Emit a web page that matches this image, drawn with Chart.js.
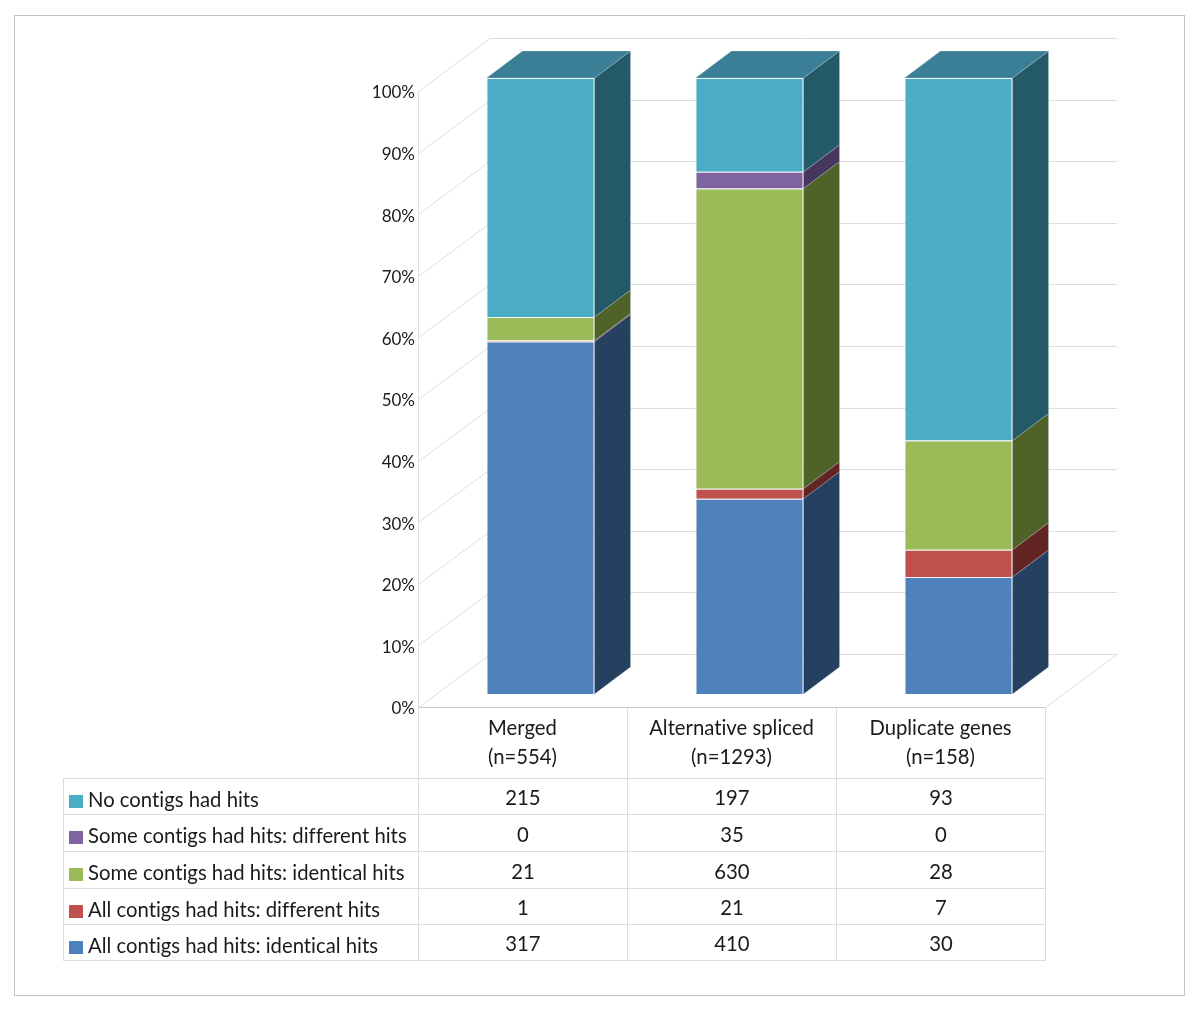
<!DOCTYPE html>
<html>
<head>
<meta charset="utf-8">
<title>Contig hits</title>
<script src="https://cdn.jsdelivr.net/npm/chart.js@4/dist/chart.umd.js"></script>
<style>
    html, body { margin: 0; padding: 0; background: #fff; }
    #wrap { position: relative; width: 1200px; height: 1013px; overflow: hidden; }
    #frame { position: absolute; left: 14px; top: 15px; width: 1169px; height: 979px; border: 1px solid #c4c4c4; }
    #stats_chart { position: absolute; left: 0; top: 0; }
    #data_table {
        position: absolute; left: 63px; top: 778px; width: 983px;
        border-collapse: collapse; table-layout: fixed;
        font-family: Lato, sans-serif; font-size: 20.3px; color: #1a1a1a;
        font-variant-ligatures: none; line-height: 24px;
    }
    #data_table td { box-sizing: border-box; border: 1px solid #dcdcdc; padding: 1px 0 0 0; height: 36px; text-align: center; }
    #data_table tr:nth-child(2) td, #data_table tr:nth-child(3) td { height: 37px; }
    #data_table td.name { text-align: left; white-space: nowrap; padding: 4px 0 0 5px; }
    .swatch { display: inline-block; width: 14px; height: 13px; margin-right: 5px; vertical-align: -1px; }
</style>
</head>
<body>
<div id="wrap">
    <div id="frame"></div>
    <canvas id="stats_chart" width="1200" height="1013"></canvas>
    <table id="data_table"></table>
</div>
<script>
'use strict';

const categories = [['Merged', '(n=554)'], ['Alternative spliced', '(n=1293)'], ['Duplicate genes', '(n=158)']];
const series_names = [
    'All contigs had hits: identical hits',
    'All contigs had hits: different hits',
    'Some contigs had hits: identical hits',
    'Some contigs had hits: different hits',
    'No contigs had hits',
];
const identical_all = [317, 410, 30];
const different_all = [1, 21, 7];
const identical_some = [21, 630, 28];
const different_some = [0, 35, 0];
const no_hits = [215, 197, 93];
const y_ticks_step = 10;

const front_colors = ['#4F81BD', '#C0504D', '#9BBB59', '#8064A2', '#4BACC6'];
const side_colors = ['#254061', '#632523', '#4F6228', '#47375F', '#245A68'];
const top_color = '#3A7F95';
const edge_color = 'rgba(215, 225, 235, 0.25)';
const grid_color = '#dedede';

const series_values = [identical_all, different_all, identical_some, different_some, no_hits];
const totals = categories.map((c, i) => series_values.reduce((sum, s) => sum + s[i], 0));

// the picture is a fake 3D: wall sits (72,-53) behind the axis plane, bars half way in
const wall_dx = 72, wall_dy = -53;
const bar_dx = 18, bar_dy = -13;
const side_dx = 36, side_dy = -27;

const depth_plugin = {
    id: 'depth',
    beforeDraw(chart) {
        // no ligatures on canvas text, the original font has none here
        chart.ctx.textRendering = 'optimizeSpeed';
    },
    beforeDatasetsDraw(chart) {
        const ctx = chart.ctx;
        const y_scale = chart.scales.y;
        const { left, right, bottom } = chart.chartArea;
        ctx.save();
        ctx.strokeStyle = grid_color;
        ctx.lineWidth = 1;
        y_scale.ticks.forEach((tick) => {
            const y = Math.round(y_scale.getPixelForValue(tick.value)) + 0.5;
            ctx.beginPath();
            ctx.moveTo(left + 0.5, y);
            ctx.lineTo(left + wall_dx, y + wall_dy);
            ctx.lineTo(right + wall_dx, y + wall_dy);
            ctx.stroke();
        });
        ctx.beginPath();
        ctx.moveTo(right + 0.5, bottom + 0.5);
        ctx.lineTo(right + wall_dx, bottom + wall_dy + 0.5);
        ctx.stroke();
        ctx.restore();

        ctx.save();
        ctx.translate(bar_dx, bar_dy);
    },
    afterDatasetsDraw(chart) {
        const ctx = chart.ctx;
        const face = (points, fill) => {
            ctx.beginPath();
            points.forEach((p, i) => (i ? ctx.lineTo(p[0], p[1]) : ctx.moveTo(p[0], p[1])));
            ctx.closePath();
            ctx.fillStyle = fill;
            ctx.fill();
            ctx.strokeStyle = edge_color;
            ctx.lineWidth = 1;
            ctx.stroke();
        };
        chart.data.datasets.forEach((dataset, d) => {
            chart.getDatasetMeta(d).data.forEach((bar, i) => {
                if (!dataset.data[i]) return;
                const x = bar.x + bar.width / 2;
                face([[x, bar.y], [x + side_dx, bar.y + side_dy], [x + side_dx, bar.base + side_dy], [x, bar.base]], side_colors[d]);
                if (d === chart.data.datasets.length - 1) {
                    const x0 = bar.x - bar.width / 2;
                    face([[x0, bar.y], [x0 + side_dx, bar.y + side_dy], [x + side_dx, bar.y + side_dy], [x, bar.y]], top_color);
                }
            });
        });
        ctx.restore();
    },
};

const mychart = document.getElementById('stats_chart');

const drop_padding = (scale) => {
    scale.paddingTop = 0;
    scale.paddingBottom = 0;
    scale.paddingLeft = 0;
    scale.paddingRight = 0;
};

new Chart(mychart, {
    type: 'bar',
    data: {
        labels: categories,
        datasets: series_names.map((name, d) => ({
            label: name,
            data: series_values[d].map((v, i) => v / totals[i] * 100),
            backgroundColor: front_colors[d],
            borderColor: edge_color,
            borderWidth: 1,
            categoryPercentage: 1,
            barPercentage: 0.517,
            clip: false,
        })),
    },
    options: {
        responsive: false,
        animation: false,
        layout: { padding: { top: 91, right: 155, bottom: 235, left: 0 } },
        plugins: { legend: { display: false }, tooltip: { enabled: false } },
        scales: {
            x: {
                stacked: true,
                grid: { color: grid_color, drawOnChartArea: false, tickLength: 71 },
                border: { color: '#c8c8c8' },
                ticks: {
                    color: '#1a1a1a',
                    maxRotation: 0,
                    autoSkip: false,
                    padding: -64,
                    font: { family: 'Lato', size: 20.3, lineHeight: 1.43 },
                },
                afterFit: (scale) => { scale.height = 71; drop_padding(scale); },
            },
            y: {
                stacked: true,
                min: 0,
                max: 100,
                grid: { display: false, drawTicks: false },
                border: { color: grid_color },
                ticks: {
                    stepSize: y_ticks_step,
                    color: '#1a1a1a',
                    padding: 3,
                    labelOffset: 2,
                    font: { family: 'Lato', size: 17 },
                    callback: (value) => value + '%',
                },
                afterFit: (scale) => { scale.width = 418; drop_padding(scale); },
            },
        },
    },
    plugins: [depth_plugin],
});

// data table under the plot, doubles as the legend
const data_table = document.getElementById('data_table');
const col_widths = [355, 209, 209, 209];
const colgroup = document.createElement('colgroup');
col_widths.forEach((w) => {
    const col = document.createElement('col');
    col.style.width = w + 'px';
    colgroup.appendChild(col);
});
data_table.appendChild(colgroup);

for (let d = series_names.length - 1; d >= 0; d--) {
    const row = data_table.insertRow();
    const name_cell = row.insertCell();
    name_cell.className = 'name';
    const swatch = document.createElement('span');
    swatch.className = 'swatch';
    swatch.style.background = front_colors[d];
    name_cell.appendChild(swatch);
    name_cell.appendChild(document.createTextNode(series_names[d]));
    series_values[d].forEach((v) => {
        row.insertCell().textContent = v;
    });
}
</script>
</body>
</html>
